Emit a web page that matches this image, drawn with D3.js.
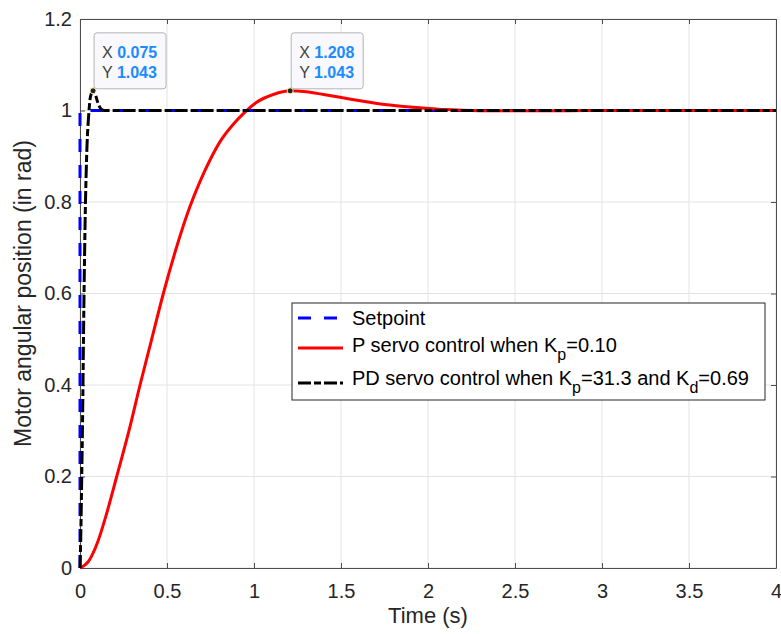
<!DOCTYPE html>
<html>
<head>
<meta charset="utf-8">
<script src="https://cdn.jsdelivr.net/npm/d3@7"></script>
<style>
  body { margin: 0; background: #fff; }
  text { font-family: "Liberation Sans", Arial, Helvetica, sans-serif; }
</style>
</head>
<body>
<div id="chart"></div>
<script>
// values
const xTicks = [0, 0.5, 1, 1.5, 2, 2.5, 3, 3.5, 4];
const yTicks = [0, 0.2, 0.4, 0.6, 0.8, 1, 1.2];

const setpointT = [0, 0, 4];
const setpointY = [0, 1, 1];

const pTime = [0, 0.05, 0.1, 0.15, 0.211, 0.28, 0.345, 0.41, 0.479, 0.55, 0.632, 0.69, 0.75, 0.805, 0.881, 0.939, 1.015, 1.111, 1.207, 1.3, 1.4, 1.494, 1.6, 1.75, 1.954, 2.1, 2.3, 2.5, 2.8, 3.2, 4];
const pPos  = [0, 0.015, 0.055, 0.115, 0.2, 0.298, 0.4, 0.497, 0.6, 0.695, 0.79, 0.845, 0.894, 0.932, 0.97, 0.993, 1.018, 1.035, 1.043, 1.041, 1.035, 1.029, 1.022, 1.013, 1.006, 1.002, 0.9997, 0.9995, 0.9997, 1.0, 1.0];

const pdTime = [0, 0.005, 0.01, 0.015, 0.02, 0.025, 0.03, 0.04, 0.05, 0.06, 0.075, 0.09, 0.1, 0.12, 0.14, 0.2, 4];
const pdPos  = [0, 0.08, 0.2, 0.33, 0.5, 0.65, 0.77, 0.92, 0.99, 1.03, 1.043, 1.033, 1.02, 1.004, 1.0, 1.0, 1.0];

const tipX = [0.075, 1.208];
const tipY = [1.043, 1.043];

const W = 781, H = 634;
const m = { left: 80, right: 5, top: 19, bottom: 66 };
const axisColor = "#4d4d4d";

const svg = d3.select("#chart").append("svg")
  .attr("width", W).attr("height", H);

const x = d3.scaleLinear().domain([0, 4]).range([m.left, W - m.right]);
const y = d3.scaleLinear().domain([0, 1.2]).range([H - m.bottom, m.top]);

// grid
const grid = svg.append("g").attr("stroke", "#e3e3e3").attr("stroke-width", 1);
grid.selectAll("line.gx").data(xTicks).enter().append("line")
  .attr("x1", d => x(d)).attr("x2", d => x(d))
  .attr("y1", y(0)).attr("y2", y(1.2));
grid.selectAll("line.gy").data(yTicks).enter().append("line")
  .attr("y1", d => y(d)).attr("y2", d => y(d))
  .attr("x1", x(0)).attr("x2", x(4));

// axes (ticks pointing inward, on all four sides)
const xAxis = svg.append("g")
  .attr("transform", "translate(0," + y(0) + ")")
  .call(d3.axisBottom(x).tickValues(xTicks).tickSizeInner(-5).tickSizeOuter(0).tickPadding(16).tickFormat(d3.format("")));
const yAxis = svg.append("g")
  .attr("transform", "translate(" + x(0) + ",0)")
  .call(d3.axisLeft(y).tickValues(yTicks).tickSizeInner(-5).tickSizeOuter(0).tickPadding(8).tickFormat(d3.format("")));
const xTop = svg.append("g")
  .attr("transform", "translate(0," + y(1.2) + ")")
  .call(d3.axisTop(x).tickValues(xTicks).tickSizeInner(-5).tickSizeOuter(0).tickFormat(""));
const yRight = svg.append("g")
  .attr("transform", "translate(" + x(4) + ",0)")
  .call(d3.axisRight(y).tickValues(yTicks).tickSizeInner(-5).tickSizeOuter(0).tickFormat(""));
[xAxis, yAxis, xTop, yRight].forEach(a => {
  a.select(".domain").attr("stroke", axisColor);
  a.selectAll(".tick line").attr("stroke", axisColor);
  a.selectAll(".tick text").attr("fill", "#262626").style("font-size", "20px");
});

// axis labels
svg.append("text").attr("x", (x(0) + x(4)) / 2).attr("y", 623)
  .attr("text-anchor", "middle").attr("fill", "#262626").style("font-size", "22px")
  .text("Time (s)");
svg.append("text").attr("transform", "translate(31," + (y(0) + y(1.2)) / 2 + ") rotate(-90)")
  .attr("text-anchor", "middle").attr("fill", "#262626").style("font-size", "23px")
  .text("Motor angular position (in rad)");

// lines
const plot = svg.append("g");
const line = d3.line().x(d => x(d[0])).y(d => y(d[1]));
const smooth = d3.line().x(d => x(d[0])).y(d => y(d[1])).curve(d3.curveMonotoneX);

plot.append("path").datum(d3.zip(setpointT, setpointY))
  .attr("d", line).attr("fill", "none").attr("stroke", "#0000ff")
  .attr("stroke-width", 3).attr("stroke-dasharray", "13,13");
plot.append("path").datum(d3.zip(pTime, pPos))
  .attr("d", smooth).attr("fill", "none").attr("stroke", "#ff0000")
  .attr("stroke-width", 3);
plot.append("path").datum(d3.zip(pdTime, pdPos))
  .attr("d", smooth).attr("fill", "none").attr("stroke", "#000")
  .attr("stroke-width", 3).attr("stroke-dasharray", "13,3,7,3");

// data tips
const tips = svg.append("g");
d3.zip(tipX, tipY).forEach(([tx, ty]) => {
  const px = x(tx), py = y(ty);
  const g = tips.append("g").attr("transform", "translate(" + (px + 1) + "," + (py - 2) + ")");
  g.append("rect").attr("x", 0).attr("y", -56).attr("width", 72).attr("height", 56)
    .attr("rx", 3).attr("fill", "#f8f8fd").attr("stroke", "#b5b5b5");
  const t1 = g.append("text").attr("x", 8).attr("y", -31).style("font-size", "16px");
  t1.append("tspan").attr("fill", "#404040").text("X ");
  t1.append("tspan").attr("fill", "#1a8cff").attr("font-weight", "bold").text(d3.format(".3f")(tx));
  const t2 = g.append("text").attr("x", 8).attr("y", -11).style("font-size", "16px");
  t2.append("tspan").attr("fill", "#404040").text("Y ");
  t2.append("tspan").attr("fill", "#1a8cff").attr("font-weight", "bold").text(d3.format(".3f")(ty));
  tips.append("circle").attr("cx", px).attr("cy", py).attr("r", 3)
    .attr("fill", "#222").attr("stroke", "#f5f0b0").attr("stroke-width", 1);
});

// legend
const lg = svg.append("g").attr("transform", "translate(292,303)");
lg.append("rect").attr("width", 473).attr("height", 97)
  .attr("fill", "#fff").attr("stroke", "#262626").attr("stroke-width", 1);
const items = [
  { color: "#0000ff", dash: "13,13", y: 15, base: 22, parts: [["Setpoint", null]] },
  { color: "#ff0000", dash: null, y: 45, base: 49, parts: [["P servo control when K", null], ["p", "sub"], ["=0.10", null]] },
  { color: "#000", dash: "13,3,7,3", y: 80, base: 82, parts: [["PD servo control when K", null], ["p", "sub"], ["=31.3 and K", null], ["d", "sub"], ["=0.69", null]] }
];
items.forEach(it => {
  lg.append("line").attr("x1", 6).attr("x2", 51).attr("y1", it.y).attr("y2", it.y)
    .attr("stroke", it.color).attr("stroke-width", 3)
    .attr("stroke-dasharray", it.dash);
  const t = lg.append("text").attr("x", 60).attr("y", it.base).attr("fill", "#000").style("font-size", "20px");
  it.parts.forEach(([s, k], i) => {
    const sp = t.append("tspan").text(s);
    if (k === "sub") sp.attr("dy", 8).style("font-size", "16px");
    else if (i > 0) sp.attr("dy", -8);
  });
});
</script>
</body>
</html>
